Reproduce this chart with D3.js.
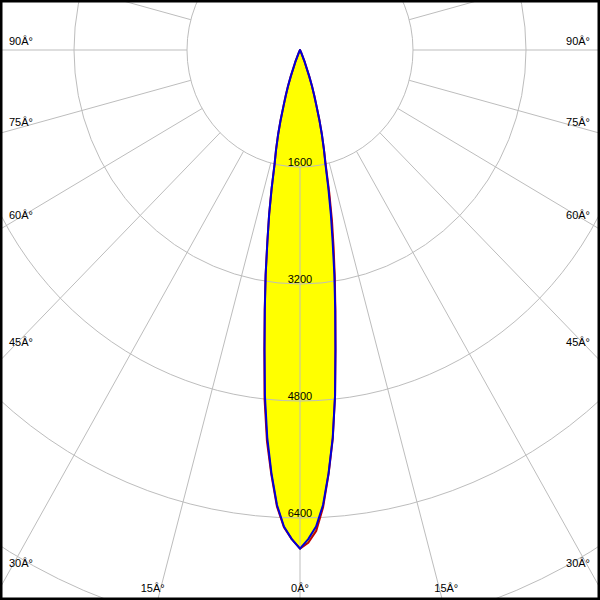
<!DOCTYPE html>
<html>
<head>
<meta charset="utf-8">
<script src="https://cdn.jsdelivr.net/npm/d3@7"></script>
<style>
html,body{margin:0;padding:0;background:#fff;}
svg{display:block;}
text{font-family:"Liberation Sans",Arial,sans-serif;font-size:11px;fill:#000;}
</style>
</head>
<body>
<svg id="chart" width="600" height="600"></svg>
<script>
// ---- data ----
// angles in degrees from nadir (0 = straight down)
const beamAngles = [0,1,2,3,4,5,6,7,8,9,10,11,12,13,14,15,16,17,18,19,20,22,25,30];
// C0-C180 plane (blue), symmetric
const intensityBlue = [6820,6690,6520,6230,5800,5320,4750,4120,3580,3110,2660,2290,1930,1600,1400,1200,995,795,650,520,380,180,40,0];
// C90-C270 plane (red), left side (negative angles) and right side
const intensityRedLeft  = [6820,6690,6530,6250,5820,5370,4800,4140,3590,3110,2660,2290,1930,1600,1400,1200,995,795,650,520,380,180,40,0];
const intensityRedRight = [6820,6740,6580,6260,5810,5330,4750,4120,3600,3150,2740,2370,1990,1630,1400,1200,995,795,650,520,380,180,40,0];

const ringValues = [1600,3200,4800,6400,8000,9600,11200,12800];
const ringLabels = ["1600","3200","4800","6400"];
const spokeAngles = [0,15,30,45,60,75,90,105,120,135,150,165,180];
const angleLabelValues = [0,15,30,45,60,75,90];
const angleLabelText = ["0Â°","15Â°","30Â°","45Â°","60Â°","75Â°","90Â°"];

// ---- layout ----
const W = 600, H = 600;
const cx = 300, cy = 50;
const ry = d3.scaleLinear().domain([0,1600]).range([0,117]);
const rx = d3.scaleLinear().domain([0,1600]).range([0,113]);
const rad = d => d*Math.PI/180;
const pt = (deg, I) => [cx + rx(I)*Math.sin(rad(deg)), cy + ry(I)*Math.cos(rad(deg))];

const svg = d3.select("#chart");
svg.append("rect").attr("width",W).attr("height",H).attr("fill","#fff");

// beam polygons
const line = d3.line().curve(d3.curveLinear);
function beamPoints(left, right){
  const pts = [];
  for (let i = beamAngles.length-1; i >= 0; i--) pts.push(pt(-beamAngles[i], left[i]));
  for (let i = 1; i < beamAngles.length; i++) pts.push(pt(beamAngles[i], right[i]));
  return pts;
}
const redPts = beamPoints(intensityRedLeft, intensityRedRight);
const bluePts = beamPoints(intensityBlue, intensityBlue);

svg.append("path").attr("d", line(redPts)+"Z").attr("fill","#ffff00").attr("stroke","none");
svg.append("path").attr("d", line(bluePts)+"Z").attr("fill","#ffff00").attr("stroke","none");

// grid
const grid = svg.append("g").attr("stroke","#bdbdbd").attr("stroke-width",1).attr("fill","none");
grid.selectAll("ellipse").data(ringValues).join("ellipse")
  .attr("cx",cx).attr("cy",cy).attr("rx",d=>rx(d)).attr("ry",d=>ry(d));
const spokes = [];
spokeAngles.forEach(a => { spokes.push(a); if (a>0 && a<180) spokes.push(-a); });
grid.selectAll("line").data(spokes).join("line")
  .attr("x1",d=>pt(d,1600)[0]).attr("y1",d=>pt(d,1600)[1])
  .attr("x2",d=>pt(d,20000)[0]).attr("y2",d=>pt(d,20000)[1]);

// outlines
svg.append("path").attr("d", line(redPts)+"Z").attr("fill","none").attr("stroke","#c00000").attr("stroke-width",2).attr("stroke-linejoin","round");
svg.append("path").attr("d", line(bluePts)+"Z").attr("fill","none").attr("stroke","#0000d8").attr("stroke-width",2).attr("stroke-linejoin","round");

// ring labels
svg.selectAll("text.ring").data(ringLabels).join("text").attr("class","ring")
  .attr("x",cx).attr("y",(d,i)=>cy+ry(ringValues[i])-1.5)
  .attr("text-anchor","middle").text(d=>d);

// angle labels
const labels = [];
angleLabelValues.forEach((a,i) => {
  const sides = a===0 ? [0] : [-1,1];
  sides.forEach(s => {
    const ux = Math.sin(rad(a))*113/117, uy = Math.cos(rad(a));
    let x, y, anchor;
    if (ux > 0) {
      const t = (cx-9)/ux;
      const ySide = cy + t*uy;
      if (ySide < 590) {
        y = ySide - 5;
        x = s<0 ? 9 : W-10;
        anchor = s<0 ? "start" : "end";
        labels.push({x,y,anchor,t:angleLabelText[i]});
        return;
      }
    }
    const tb = (592-cy)/uy;
    x = cx + s*tb*ux + (s<0 ? -7 : (s>0 ? 6 : 0));
    labels.push({x, y:592, anchor:"middle", t:angleLabelText[i]});
  });
});
svg.selectAll("text.ang").data(labels).join("text").attr("class","ang")
  .attr("x",d=>d.x).attr("y",d=>d.y).attr("text-anchor",d=>d.anchor).text(d=>d.t);

// frame
svg.append("rect").attr("x",0).attr("y",0).attr("width",W).attr("height",H)
  .attr("fill","none").attr("stroke","#000").attr("stroke-width",5);
</script>
</body>
</html>
